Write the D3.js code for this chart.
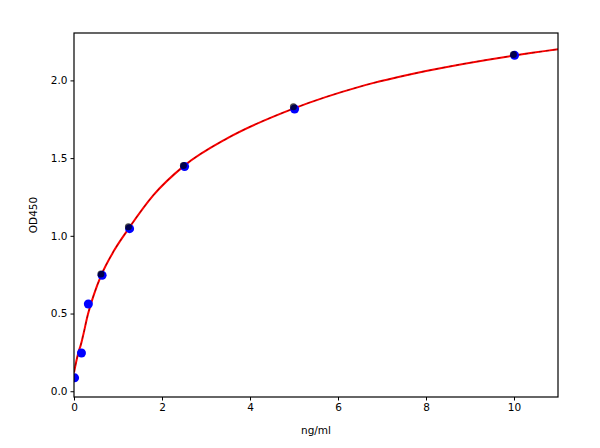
<!DOCTYPE html>
<html lang="en">
<head>
<meta charset="utf-8">
<title>OD450 standard curve</title>
<script type="text/javascript" src="https://d3js.org/d3.v7.min.js"></script>
<style>
body { margin: 0; background: #fff; }
.axis text { font-family: "DejaVu Sans", sans-serif; font-size: 10.5px; fill: #000; }
.axis path, .axis line { stroke: #000; }
.label { font-family: "DejaVu Sans", sans-serif; font-size: 10.5px; fill: #000; }
</style>
</head>
<body>
<div id="chart"></div>
<script type="text/javascript">

// standards (ng/ml) and measured OD450
var concs = [0, 0.156, 0.3125, 0.625, 1.25, 2.5, 5, 10];
var odBlue = [0.09, 0.25, 0.565, 0.75, 1.05, 1.45, 1.82, 2.165];

// second replicate (black, mostly hidden under blue)
var concsBlack = [0.625, 1.25, 2.5, 5, 10];
var odBlack = [0.755, 1.058, 1.452, 1.83, 2.166];

// fitted curve
var fitX = [0, 0.05, 0.1, 0.156, 0.2, 0.3125, 0.45, 0.625, 0.9, 1.25, 1.8, 2.5, 3.5, 5, 6.5, 8, 10, 11];
var fitY = [0.12, 0.19, 0.25, 0.30, 0.35, 0.49, 0.62, 0.75, 0.90, 1.05, 1.26, 1.45, 1.63, 1.82, 1.96, 2.06, 2.16, 2.20];

var xTicks = [0, 2, 4, 6, 8, 10];
var yTicks = [0.0, 0.5, 1.0, 1.5, 2.0];

var width = 600, height = 448;
var margin = {top: 33, right: 42, bottom: 51, left: 74};
var w = width - margin.left - margin.right,
    h = height - margin.top - margin.bottom;

var svg = d3.select("#chart").append("svg")
    .attr("width", width)
    .attr("height", height);

var root = svg.append("g")
    .attr("transform", "translate(" + margin.left + "," + margin.top + ")");

var x = d3.scaleLinear().domain([0, 11]).range([0, w]);
var y = d3.scaleLinear().domain([-0.037, 2.305]).range([h, 0]);

root.append("defs").append("clipPath").attr("id", "clip")
    .append("rect").attr("width", w).attr("height", h);

var plot = root.append("g").attr("clip-path", "url(#clip)");

var fit = fitX.map((d, i) => [d, fitY[i]]);
var line = d3.line()
    .x(d => x(d[0]))
    .y(d => y(d[1]))
    .curve(d3.curveMonotoneX);

plot.append("path")
    .datum(fit)
    .attr("d", line)
    .attr("fill", "none")
    .attr("stroke", "#ff0000")
    .attr("stroke-width", 2);

plot.append("path")
    .datum(fit)
    .attr("d", line)
    .attr("fill", "none")
    .attr("stroke", "#000")
    .attr("stroke-opacity", 0.5)
    .attr("stroke-width", 0.8)
    .attr("stroke-dasharray", "3,4");

plot.selectAll(".blue")
    .data(concs.map((d, i) => [d, odBlue[i]]))
    .enter().append("circle")
        .attr("class", "blue")
        .attr("cx", d => x(d[0]) + 0.6)
        .attr("cy", d => y(d[1]) + 0.6)
        .attr("r", 4.5)
        .attr("fill", "#0000ff");

plot.selectAll(".black")
    .data(concsBlack.map((d, i) => [d, odBlack[i]]))
    .enter().append("circle")
        .attr("class", "black")
        .attr("cx", d => x(d[0]) - 0.6)
        .attr("cy", d => y(d[1]))
        .attr("r", 3.5)
        .attr("fill", "#000")
        .attr("fill-opacity", 0.7);

root.append("g")
    .attr("class", "axis")
    .attr("transform", "translate(0," + h + ")")
    .call(d3.axisBottom(x).tickValues(xTicks).tickSize(3.5).tickPadding(3).tickFormat(d3.format("d")));

root.append("g")
    .attr("class", "axis")
    .call(d3.axisLeft(y).tickValues(yTicks).tickSize(3.5).tickPadding(3).tickFormat(d3.format(".1f")));

root.selectAll(".axis .domain").remove();

root.append("rect")
    .attr("width", w)
    .attr("height", h)
    .attr("fill", "none")
    .attr("stroke", "#000")
    .attr("stroke-width", 1.2);

root.append("text")
    .attr("class", "label")
    .attr("x", w / 2)
    .attr("y", h + 37)
    .attr("text-anchor", "middle")
    .text("ng/ml");

root.append("text")
    .attr("class", "label")
    .attr("transform", "translate(" + (-37) + "," + (h / 2) + ") rotate(-90)")
    .attr("text-anchor", "middle")
    .text("OD450");

</script>
</body>
</html>
